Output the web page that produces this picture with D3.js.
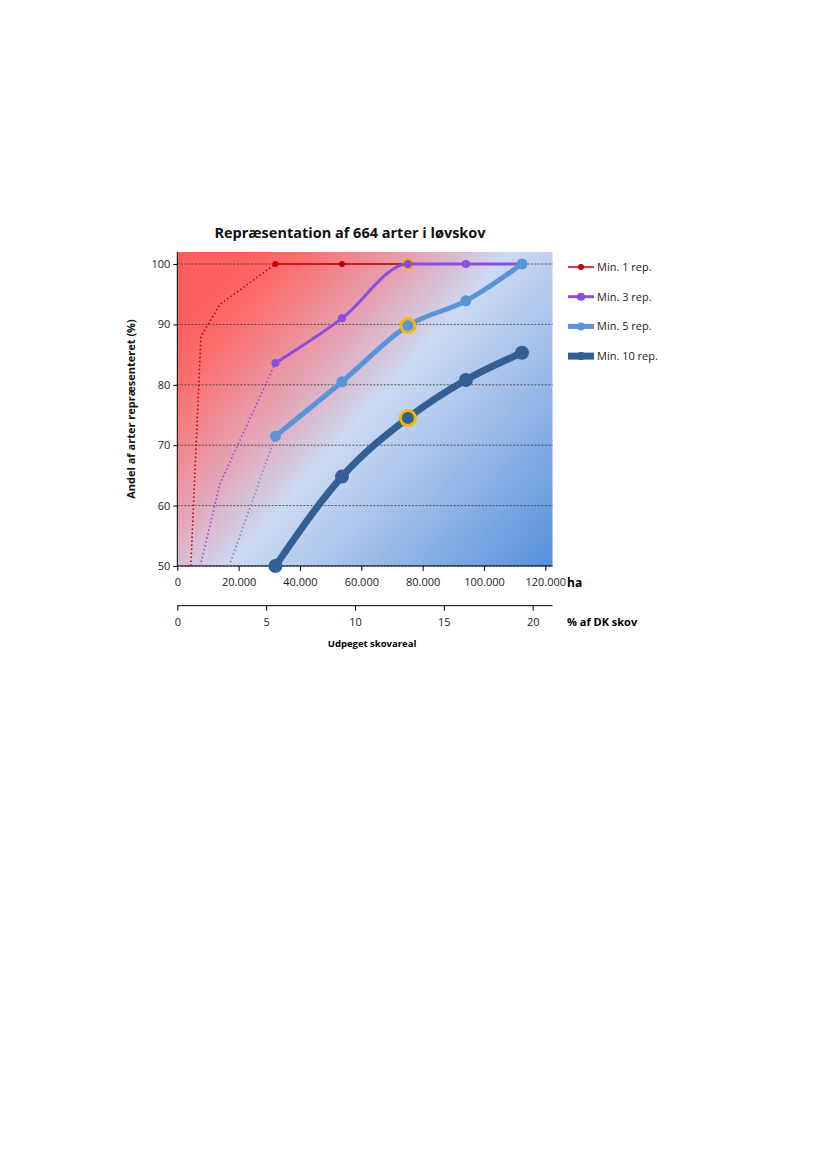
<!DOCTYPE html>
<head>
<meta charset="utf-8">
<style>
body { margin: 0; background: #fff; }
text { font-family: "Open Sans", "Liberation Sans", sans-serif; }
</style>
</head>
<body>
<div id="chart"></div>
<script src="https://cdn.jsdelivr.net/npm/d3@7"></script>
<script>
(function() {
  "use strict";

  // data
  var xs = [32000, 53700, 75200, 94100, 112400];
  var min1 = [100, 100, 100];
  var min1Dots = [[4400, 50], [7700, 88], [13900, 93.3], [32000, 100]];
  var min3 = [83.6, 91, 100, 100, 100];
  var min3Dots = [[7500, 50], [13900, 63.6], [32000, 83.6]];
  var min5 = [71.5, 80.5, 89.8, 93.9, 100];
  var min5Dots = [[16900, 50], [32000, 71.5]];
  var min10 = [50, 64.8, 74.5, 80.8, 85.3];
  var highlightX = 75200;
  var yTicks = [50, 60, 70, 80, 90, 100];
  var xTicks = [0, 20000, 40000, 60000, 80000, 100000, 120000];
  var pctTicks = [0, 5, 10, 15, 20];
  var legendNames = ["Min. 1 rep.", "Min. 3 rep.", "Min. 5 rep.", "Min. 10 rep."];

  var series = [
    { name: legendNames[0], vals: min1, dots: min1Dots, color: "#c00000", w: 1.5, r: 3, ring: 4.5 },
    { name: legendNames[1], vals: min3, dots: min3Dots, color: "#8b4ce0", w: 3, r: 4, ring: 0 },
    { name: legendNames[2], vals: min5, dots: min5Dots, color: "#5b93d8", w: 5, r: 5.5, ring: 7 },
    { name: legendNames[3], vals: min10, dots: null, color: "#335f94", w: 7, r: 7, ring: 7.5 }
  ];

  var svg = d3.select("#chart").append("svg").attr("width", 827).attr("height", 1169);

  var x = d3.scaleLinear().domain([0, 120000]).range([177.3, 545.3]);
  var y = d3.scaleLinear().domain([50, 100]).range([566, 264]);
  var xp = d3.scaleLinear().domain([0, 20]).range([177.3, 532.7]);
  var left = 177.3, right = 552.5, top = 252, bottom = 566;

  var defs = svg.append("defs");
  var g1 = defs.append("linearGradient").attr("id", "bg")
    .attr("x1", 0).attr("y1", 0.25).attr("x2", 1).attr("y2", 1);
  [[0, "#ff5f5f"], [0.1, "#fb7070"], [0.3, "#e4a6b8"], [0.45, "#cbdaf3"], [0.65, "#a3c0ea"], [1, "#5590dc"]]
    .forEach(function(s) { g1.append("stop").attr("offset", s[0]).attr("stop-color", s[1]); });

  svg.append("rect").attr("x", left).attr("y", top).attr("width", right - left).attr("height", bottom - top)
    .attr("fill", "url(#bg)");

  // gridlines
  svg.selectAll(".grid").data(yTicks).enter().append("line")
    .attr("x1", left).attr("x2", right)
    .attr("y1", function(d) { return y(d); }).attr("y2", function(d) { return y(d); })
    .attr("stroke", "#333").attr("stroke-width", 0.8).attr("stroke-dasharray", "2,1.5");

  // y axis
  var ya = svg.append("g").attr("transform", "translate(" + left + ",0)")
    .call(d3.axisLeft(y).tickValues(yTicks).tickSize(4));
  ya.select(".domain").attr("d", "M0," + top + "V" + bottom);
  ya.selectAll("text").attr("font-size", 11).attr("fill", "#222");

  // x axis (ha)
  var xa = svg.append("g").attr("transform", "translate(0," + bottom + ")")
    .call(d3.axisBottom(x).tickValues(xTicks).tickSize(5)
      .tickFormat(function(d) { return d3.format(",")(d).replace(/,/g, "."); }));
  xa.select(".domain").attr("d", "M" + left + ",0H" + right);
  xa.selectAll("text").attr("font-size", 11).attr("fill", "#222").attr("dy", "1.1em");

  // x axis (%)
  var pa = svg.append("g").attr("transform", "translate(0,605.7)")
    .call(d3.axisBottom(xp).tickValues(pctTicks).tickSize(5));
  pa.select(".domain").attr("d", "M" + left + ",0H" + right);
  pa.selectAll("text").attr("font-size", 11).attr("fill", "#222").attr("dy", "1.1em");

  var line = d3.line().x(function(d) { return x(d[0]); }).y(function(d) { return y(d[1]); });

  series.forEach(function(s) {
    if (s.dots) {
      svg.append("path").attr("d", line(s.dots)).attr("fill", "none")
        .attr("stroke", s.color).attr("stroke-width", 1.6).attr("stroke-dasharray", "1.5,2.5");
    }
    var pts = s.vals.map(function(v, i) { return [xs[i], v]; });
    svg.append("path").attr("d", line.curve(d3.curveMonotoneX)(pts)).attr("fill", "none")
      .attr("stroke", s.color).attr("stroke-width", s.w).attr("stroke-linejoin", "round");
    line.curve(d3.curveLinear);
    svg.selectAll(null).data(pts).enter().append("circle")
      .attr("cx", function(d) { return x(d[0]); }).attr("cy", function(d) { return y(d[1]); })
      .attr("r", s.r).attr("fill", s.color);
    if (s.ring) {
      var hp = pts.filter(function(d) { return d[0] === highlightX; })[0];
      svg.append("circle").attr("cx", x(hp[0])).attr("cy", y(hp[1])).attr("r", s.ring)
        .attr("fill", "none").attr("stroke", "#f5b800").attr("stroke-width", 3);
    }
  });

  // legend
  var lg = svg.append("g");
  series.forEach(function(s, i) {
    var ly = 267 + i * 29.7;
    lg.append("line").attr("x1", 568).attr("x2", 594).attr("y1", ly).attr("y2", ly)
      .attr("stroke", s.color).attr("stroke-width", s.w);
    lg.append("circle").attr("cx", 581).attr("cy", ly).attr("r", Math.min(s.r, 4)).attr("fill", s.color);
    lg.append("text").attr("x", 597).attr("y", ly + 4).attr("font-size", 11).attr("fill", "#222").text(s.name);
  });

  svg.append("text").attr("x", 350).attr("y", 238).attr("text-anchor", "middle")
    .attr("font-size", 14.5).attr("font-weight", "bold").attr("fill", "#111")
    .text("Repræsentation af 664 arter i løvskov");
  svg.append("text").attr("transform", "translate(135,409) rotate(-90)").attr("text-anchor", "middle")
    .attr("font-size", 11).attr("font-weight", "bold").attr("fill", "#111")
    .text("Andel af arter repræsenteret (%)");
  svg.append("text").attr("x", 567).attr("y", 587).attr("font-size", 12).attr("font-weight", "bold").text("ha");
  svg.append("text").attr("x", 567).attr("y", 626).attr("font-size", 11).attr("font-weight", "bold").text("% af DK skov");
  svg.append("text").attr("x", 372).attr("y", 647).attr("text-anchor", "middle")
    .attr("font-size", 9.5).attr("font-weight", "bold").text("Udpeget skovareal");
})();
</script>
</body>
